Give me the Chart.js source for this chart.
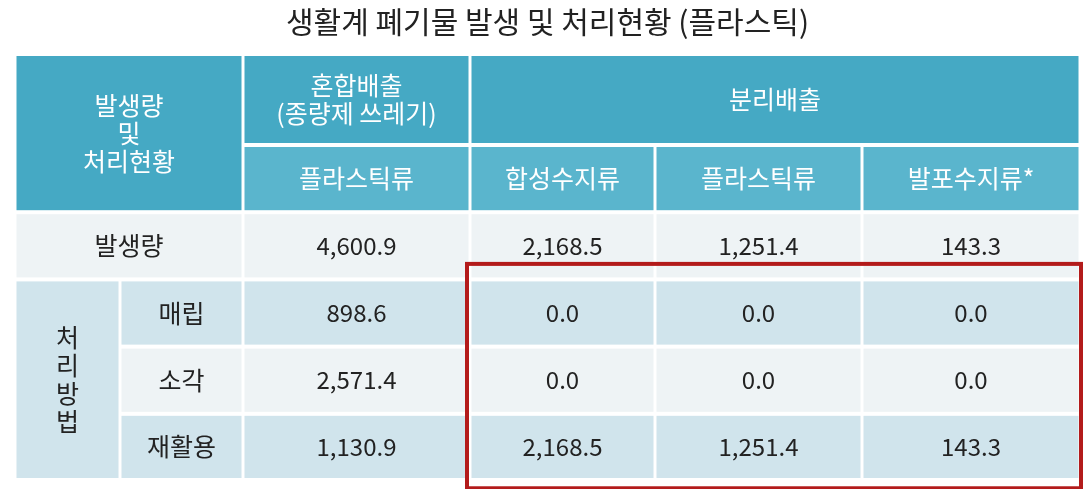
<!DOCTYPE html>
<html><head><meta charset="utf-8">
<script src="https://cdn.jsdelivr.net/npm/chart.js@4"></script>
<style>html,body{margin:0;background:#fff}#w{width:1083px;height:489px}</style>
</head><body><div id="w"><canvas id="c"></canvas></div>
<script>
const title = '생활계 폐기물 발생 및 처리현황 (플라스틱)';
const columns = ['혼합배출 플라스틱류', '합성수지류', '플라스틱류', '발포수지류*'];
const rowLabels = ['발생량', '매립', '소각', '재활용'];
const generated = [4600.9, 2168.5, 1251.4, 143.3];
const landfill = [898.6, 0.0, 0.0, 0.0];
const incineration = [2571.4, 0.0, 0.0, 0.0];
const recycling = [1130.9, 2168.5, 1251.4, 143.3];
const values = [generated, landfill, incineration, recycling];
const fmt = v => v.toLocaleString('en-US', {minimumFractionDigits: 1, maximumFractionDigits: 1});

const F = '"Noto Sans CJK KR", "Noto Sans", sans-serif';
const xEdges = [0, 105, 228, 455, 640, 847, 1065];
const yEdges = [0, 88, 153, 218, 283, 348, 412];

const tablePlugin = {
  id: 'table',
  afterDraw(chart) {
    const ctx = chart.ctx, xs = chart.scales.x, ys = chart.scales.y;
    const X = v => xs.getPixelForValue(v), Y = v => ys.getPixelForValue(v);
    const cell = (c0, c1, r0, r1, fill, txt, color, size) => {
      const x0 = X(xEdges[c0]), x1 = X(xEdges[c1]), y0 = Y(yEdges[r0]), y1 = Y(yEdges[r1]);
      ctx.fillStyle = fill;
      ctx.fillRect(x0 + 1.5, y0 + 2, x1 - x0 - 3, y1 - y0 - 4);
      if (txt) {
        const lines = txt.split('\n');
        ctx.fillStyle = color; ctx.font = '400 ' + size + 'px ' + F;
        ctx.textAlign = 'center'; ctx.textBaseline = 'middle';
        const lh = size * 1.12, cy = (y0 + y1) / 2 - (lines.length - 1) * lh / 2;
        lines.forEach((l, i) => ctx.fillText(l, (x0 + x1) / 2, cy + i * lh));
      }
    };
    const H1 = '#45a9c4', H2 = '#5ab5cd', G = '#eef3f5', B = '#d0e4ec';
    cell(0, 2, 0, 2, H1, '발생량\n및\n처리현황', '#fff', 25);
    cell(2, 3, 0, 1, H1, '혼합배출\n(종량제 쓰레기)', '#fff', 25);
    cell(3, 6, 0, 1, H1, '분리배출', '#fff', 25);
    cell(2, 3, 1, 2, H2, '플라스틱류', '#fff', 25);
    cell(3, 4, 1, 2, H2, columns[1], '#fff', 25);
    cell(4, 5, 1, 2, H2, columns[2], '#fff', 25);
    cell(5, 6, 1, 2, H2, columns[3], '#fff', 25);
    cell(0, 2, 2, 3, G, rowLabels[0], '#222', 25);
    cell(0, 1, 3, 6, B, '처\n리\n방\n법', '#222', 25);
    for (let r = 0; r < 4; r++) {
      const fill = r % 2 === 0 ? G : B;
      if (r > 0) cell(1, 2, r + 2, r + 3, fill, rowLabels[r], '#222', 25);
      for (let c = 0; c < 4; c++) cell(c + 2, c + 3, r + 2, r + 3, fill, fmt(values[r][c]), '#222', 24);
    }
    ctx.strokeStyle = '#b31b1b'; ctx.lineWidth = 4;
    ctx.strokeRect(X(452), Y(203), X(1066) - X(452), Y(420) - Y(203));
  }
};

new Chart(document.getElementById('c'), {
  type: 'scatter',
  data: { datasets: [{ data: [] }] },
  options: {
    responsive: true, maintainAspectRatio: false, animation: false,
    layout: { padding: { left: 15, right: 3, top: 4, bottom: 9 } },
    plugins: {
      legend: { display: false }, tooltip: { enabled: false },
      title: { display: true, text: title, color: '#222', font: { family: F, size: 30, weight: '400' }, padding: { top: 0, bottom: 14 } }
    },
    scales: {
      x: { type: 'linear', min: 0, max: 1065, display: false },
      y: { type: 'linear', min: 0, max: 412, reverse: true, display: false }
    }
  },
  plugins: [tablePlugin]
});
</script></body></html>
